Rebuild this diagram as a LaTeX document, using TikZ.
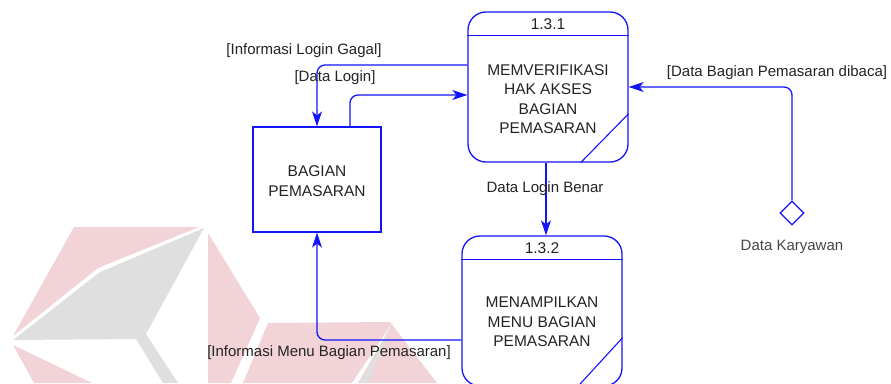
\documentclass[tikz,border=0pt]{standalone}
\usepackage{fontspec}
\setmainfont{Liberation Sans}
\usetikzlibrary{arrows.meta,positioning,shapes.geometric}

\definecolor{dfdblue}{RGB}{20,20,250}
\definecolor{inktext}{RGB}{35,35,35}
\definecolor{storetext}{RGB}{70,70,70}
\definecolor{markpink}{RGB}{242,211,215}
\definecolor{markgray}{RGB}{223,223,223}

\begin{document}
\begin{tikzpicture}[
  x=1pt, y=-1pt,
  proc/.style={draw=dfdblue, line width=1.3pt, rounded corners=18pt, minimum width=160pt, minimum height=150pt, inner sep=0pt},
  entity/.style={draw=dfdblue, line width=1.2pt, minimum width=128pt, minimum height=105pt, inner sep=0pt},
  store/.style={draw=dfdblue, line width=1.2pt, diamond, minimum size=24pt, inner sep=0pt},
  ptext/.style={align=center, font=\fontsize{15.5}{19.5}\selectfont, text=inktext},
  lbl/.style={font=\fontsize{15}{17}\selectfont, text=inktext, inner sep=1pt},
  flow/.style={draw=dfdblue, line width=1.3pt, rounded corners=8pt, -{Stealth[length=15pt,width=10pt,inset=4pt]}},
  sub/.style={draw=dfdblue, line width=1.1pt}
]
\useasboundingbox (0,0) rectangle (891,383);

% watermark
\fill[markpink] (74,227) -- (199,227) -- (98,268) -- (13,336) -- cycle;
\fill[markgray] (204,228) -- (100,272) -- (13,340) -- (136,339) -- (163,383) -- (178,383) -- (146,334) -- cycle;
\fill[markpink] (208,233) -- (260,318) -- (231,383) -- (208,383) -- cycle;
\fill[markpink] (13,345) -- (92,383) -- (34,383) -- cycle;
\fill[markpink] (268,323) -- (390,322) -- (437,383) -- (243,383) -- cycle;
\fill[white] (393,322) -- (352,383) -- (358,383) -- cycle;
\fill[markgray] (393,322) -- (360,383) -- (368,383) -- cycle;

% processes and entities
\node[proc] (p1) at (548,87) {};
\node[ptext] at (548,24) {1.3.1};
\node[ptext] at (548,99) {MEMVERIFIKASI\\HAK AKSES\\BAGIAN\\PEMASARAN};
\draw[sub] ([yshift=-24]p1.north west) -- ([yshift=-24]p1.north east);
\draw[sub] ([yshift=49]p1.south east) -- ([xshift=-48]p1.south east);

\node[proc] (p2) at (542,311) {};
\node[ptext] at (542,248) {1.3.2};
\node[ptext] at (542,322) {MENAMPILKAN\\MENU BAGIAN\\PEMASARAN};
\draw[sub] ([yshift=-24]p2.north west) -- ([yshift=-24]p2.north east);
\draw[sub] ([yshift=49]p2.south east) -- ([xshift=-45]p2.south east);

\node[entity] (ent) at (317,179.5) {};
\node[ptext] at (317,181) {BAGIAN\\PEMASARAN};

\node[store] (dk) at (792,213) {};
\node[lbl, text=storetext] at (792,247) {Data Karyawan};

% flows
\draw[flow] ([yshift=22]p1.west) -| (ent.north);
\draw[flow] ([xshift=33]ent.north) |- ([yshift=-8]p1.west);
\draw[flow] ([xshift=-2]p1.south) -- ([xshift=-2]p1.south |- p2.north);
\draw[flow] ([yshift=-29]p2.west) -| (ent.south);
\draw[flow] (dk.north) |- (p1.east);

% flow labels
\node[lbl] at (304,51) {[Informasi Login Gagal]};
\node[lbl] at (335,78) {[Data Login]};
\node[lbl] at (545,189) {Data Login Benar};
\node[lbl] at (329,353) {[Informasi Menu Bagian Pemasaran]};
\node[lbl] at (777,73) {[Data Bagian Pemasaran dibaca]};
\end{tikzpicture}
\end{document}
